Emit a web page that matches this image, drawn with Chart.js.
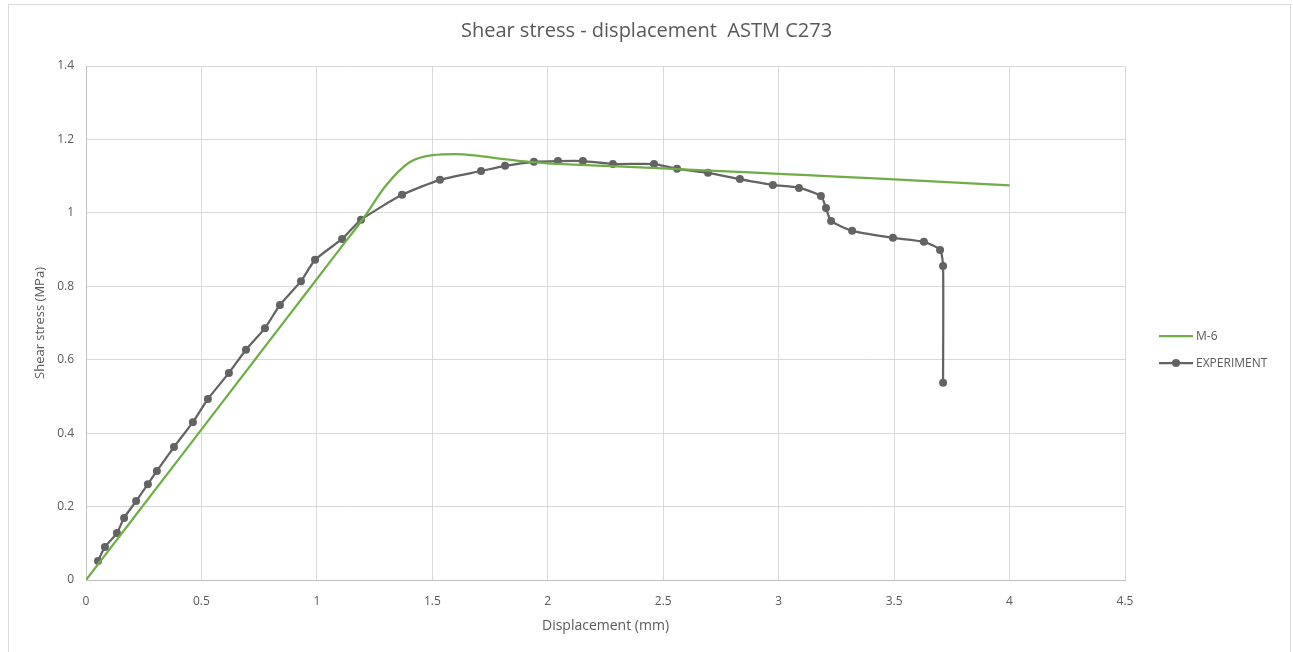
<!DOCTYPE html>
<html>
<head>
<meta charset="utf-8">
<script src="https://cdn.jsdelivr.net/npm/chart.js@4"></script>
<style>
  body { margin: 0; background: #fff; }
  #wrap { position: relative; width: 1293px; height: 652px; }
  #frame { position: absolute; left: 8px; top: 4px; width: 1283px; height: 660px; border: 1px solid #d9d9d9; box-sizing: border-box; pointer-events: none; }
</style>
</head>
<body>
<div id="wrap">
  <canvas id="chart" width="1293" height="652"></canvas>
  <div id="frame"></div>
</div>
<script>
const chartTitle = "Shear stress - displacement  ASTM C273";
const xTicks = [0, 0.5, 1, 1.5, 2, 2.5, 3, 3.5, 4, 4.5];
const yTicks = [0, 0.2, 0.4, 0.6, 0.8, 1, 1.2, 1.4];

// M-6 model curve
const m6X = [0, 0.2, 0.4, 0.6, 0.8, 1.0, 1.1, 1.2, 1.3, 1.4, 1.5, 1.6, 1.7, 1.8, 1.9, 2.0, 2.25, 2.5, 2.75, 3.0, 3.25, 3.5, 3.75, 4.0];
const m6Y = [0, 0.164, 0.328, 0.492, 0.656, 0.82, 0.902, 0.984, 1.075, 1.137, 1.157, 1.160, 1.155, 1.147, 1.140, 1.135, 1.128, 1.121, 1.114, 1.106, 1.099, 1.091, 1.083, 1.075];

// experiment
const expX = [0.052, 0.082, 0.134, 0.165, 0.217, 0.268, 0.307, 0.381, 0.463, 0.528, 0.619, 0.693, 0.775, 0.840, 0.931, 0.992, 1.109, 1.191, 1.369, 1.533, 1.711, 1.815, 1.940, 2.044, 2.152, 2.282, 2.460, 2.560, 2.694, 2.832, 2.975, 3.088, 3.183, 3.205, 3.227, 3.318, 3.495, 3.629, 3.699, 3.712, 3.712];
const expY = [0.052, 0.090, 0.128, 0.169, 0.215, 0.261, 0.297, 0.362, 0.430, 0.493, 0.564, 0.627, 0.686, 0.749, 0.814, 0.872, 0.929, 0.981, 1.049, 1.090, 1.114, 1.128, 1.139, 1.141, 1.141, 1.133, 1.133, 1.120, 1.109, 1.092, 1.076, 1.068, 1.046, 1.013, 0.978, 0.951, 0.932, 0.921, 0.899, 0.855, 0.537];

const seriesNames = ["M-6", "EXPERIMENT"];
const seriesColors = ["#70ad47", "#636363"];

const font = "'Open Sans', sans-serif";
const textColor = "#595959";

const toPts = (xs, ys) => xs.map((x, i) => ({ x: x, y: ys[i] }));

// title centred on the whole canvas, legend with line-and-dot sample
const decorPlugin = {
  id: "decor",
  afterDraw(chart) {
    const c = chart.ctx;
    c.save();
    c.fillStyle = textColor;
    c.font = "20px " + font;
    c.textAlign = "center";
    c.textBaseline = "middle";
    c.fillText(chartTitle, chart.width / 2, 31);

    const mid = (chart.chartArea.top + chart.chartArea.bottom) / 2;
    const x0 = 1159;
    c.font = "12px " + font;
    c.textAlign = "left";
    seriesNames.forEach((name, i) => {
      const y = mid + 13 + i * 27;
      c.strokeStyle = seriesColors[i];
      c.lineWidth = 2.25;
      c.beginPath();
      c.moveTo(x0, y);
      c.lineTo(x0 + 34, y);
      c.stroke();
      if (i === 1) {
        c.fillStyle = seriesColors[i];
        c.beginPath();
        c.arc(x0 + 17, y, 4, 0, Math.PI * 2);
        c.fill();
      }
      c.fillStyle = textColor;
      c.fillText(name, x0 + 37, y + 1);
    });
    c.restore();
  }
};

new Chart(document.getElementById("chart"), {
  type: "scatter",
  data: {
    datasets: [
      {
        label: seriesNames[0],
        data: toPts(m6X, m6Y),
        showLine: true,
        borderColor: seriesColors[0],
        borderWidth: 2.25,
        pointRadius: 0,
        tension: 0.4,
        cubicInterpolationMode: "monotone",
      },
      {
        label: seriesNames[1],
        data: toPts(expX, expY),
        showLine: true,
        borderColor: seriesColors[1],
        backgroundColor: seriesColors[1],
        borderWidth: 2.25,
        pointRadius: 4,
        pointBorderWidth: 0,
        tension: 0.2,
      },
    ],
  },
  options: {
    responsive: false,
    animation: false,
    layout: { padding: { left: 32, right: 168, top: 66, bottom: 18 } },
    scales: {
      x: {
        type: "linear",
        min: 0,
        max: 4.5,
        afterBuildTicks: (s) => { s.ticks = xTicks.map(v => ({ value: v })); },
        afterFit: (s) => { s.height = 54; },
        ticks: { color: textColor, font: { family: font, size: 12 }, padding: 14, callback: (v) => String(+v.toFixed(2)) },
        grid: { color: "#d9d9d9", lineWidth: 1, drawTicks: false },
        border: { color: "#bfbfbf" },
        title: { display: true, text: "Displacement (mm)", color: textColor, font: { family: font, size: 14 }, padding: { top: 0, bottom: 0 } },
      },
      y: {
        min: 0,
        max: 1.4,
        afterBuildTicks: (s) => { s.ticks = yTicks.map(v => ({ value: v })); },
        afterFit: (s) => { s.width = 54; },
        ticks: { color: textColor, font: { family: font, size: 12 }, padding: 12, callback: (v) => String(+v.toFixed(2)) },
        grid: { color: "#d9d9d9", lineWidth: 1, drawTicks: false },
        border: { color: "#bfbfbf" },
        title: { display: true, text: "Shear stress (MPa)", color: textColor, font: { family: font, size: 13 }, padding: { top: 0, bottom: 0 } },
      },
    },
    plugins: {
      legend: { display: false },
      tooltip: { enabled: false },
      title: { display: false },
    },
  },
  plugins: [decorPlugin],
});
</script>
</body>
</html>
